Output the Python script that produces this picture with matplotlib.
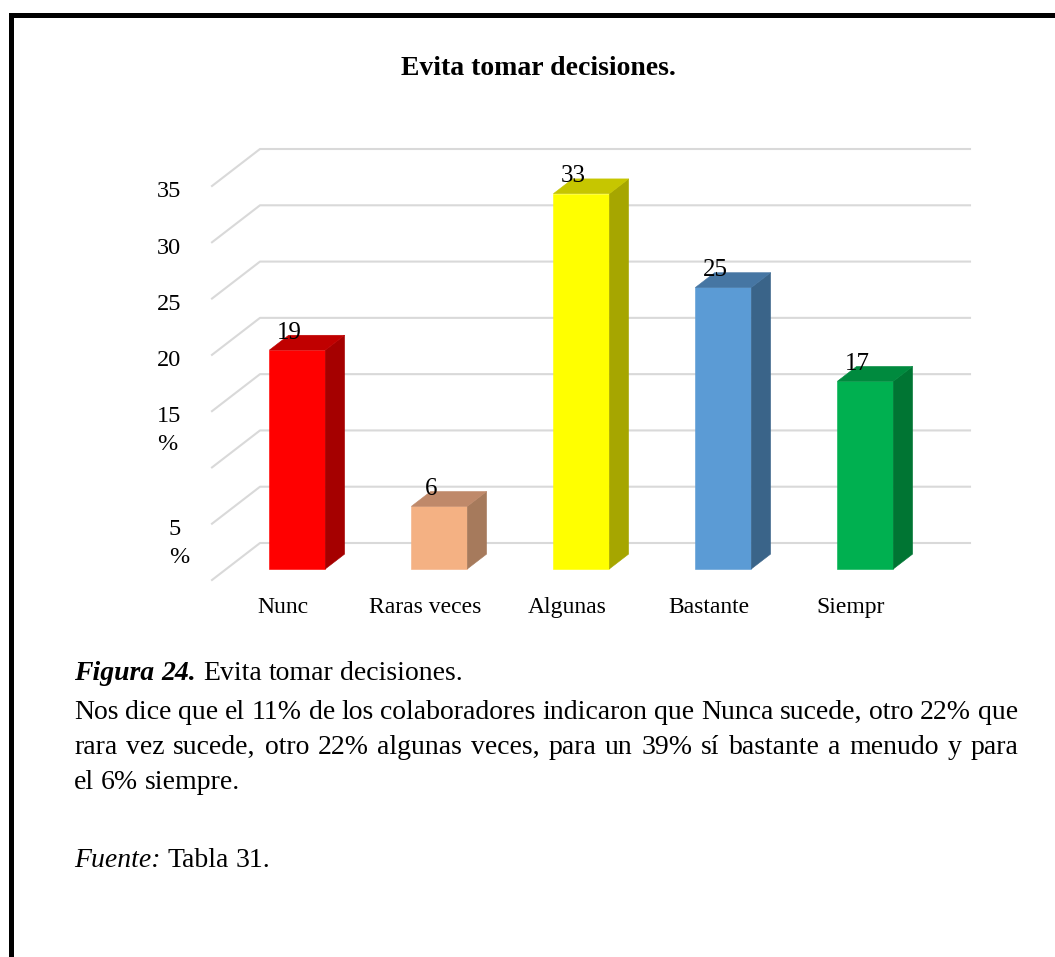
import matplotlib
matplotlib.use("Agg")
import matplotlib.pyplot as plt
from matplotlib.patches import Polygon
from matplotlib.lines import Line2D

# chart data
categories = ["Nunc", "Raras veces", "Algunas", "Bastante", "Siempr"]
values = [19.44, 5.56, 33.33, 25.0, 16.67]
front_colors = ["#ff0000", "#f4b183", "#ffff00", "#5b9bd5", "#00b050"]
side_colors = ["#a50000", "#a67a5c", "#a6a600", "#3a6489", "#007533"]
top_colors = ["#c00000", "#bf896a", "#c6c600", "#4676a3", "#008a3e"]
tick_values = [0, 5, 10, 15, 20, 25, 30, 35]
tick_labels = ["", "5", "", "15", "20", "25", "30", "35"]
tick_units = ["", "%", "", "%", "", "", "", ""]

title = "Evita tomar decisiones."
caption_head = "Figura 24."
caption_title = "Evita tomar decisiones."
body_lines = [
    "Nos dice que el 11% de los colaboradores indicaron que Nunca sucede, otro 22% que",
    "rara vez sucede, otro 22% algunas veces, para un 39% sí bastante a menudo y para",
    "el 6% siempre.",
]
source_head = "Fuente:"
source_text = "Tabla 31."

W, H = 1055, 957
serif = "Liberation Serif"
plt.rcParams["font.family"] = [serif, "DejaVu Serif"]

fig = plt.figure(figsize=(W / 100, H / 100), dpi=100)
fig.patch.set_facecolor("white")
renderer = fig.canvas.get_renderer()

# page frame (top and left rules)
fig.add_artist(Line2D([10.5 / W, 10.5 / W, 1.0], [0.0, 1 - 14.5 / H, 1 - 14.5 / H],
                      transform=fig.transFigure, color="black", lw=3.6,
                      solid_joinstyle="miter", solid_capstyle="projecting"))

# plot area in category / value units, with room for the depth offset
ax = fig.add_axes([212 / W, 1 - 580 / H, (970 - 212) / W, (580 - 149) / H])
ax.axis("off")
DX, DY = 48 / 142, 37 / 11.26      # wall depth in data units
BW = 0.394                          # bar width
ax.set_xlim(-0.5, 4.5 + DX)
ax.set_ylim(0, 35 + DY)

for v in tick_values:
    ax.plot([-0.5, -0.5 + DX, 4.5 + DX], [v, v + DY, v + DY], color="#d9d9d9",
            lw=1.5, zorder=1, clip_on=False)

for i, v in enumerate(values):
    x0 = i - BW / 2 + 0.3 * DX
    x1 = x0 + BW
    y0 = 0.3 * DY
    y1 = y0 + v
    ddx, ddy = 0.4 * DX, 0.4 * DY
    faces = [
        ([(x0, y0), (x1, y0), (x1, y1), (x0, y1)], front_colors[i]),
        ([(x1, y0), (x1 + ddx, y0 + ddy), (x1 + ddx, y1 + ddy), (x1, y1)], side_colors[i]),
        ([(x0, y1), (x1, y1), (x1 + ddx, y1 + ddy), (x0 + ddx, y1 + ddy)], top_colors[i]),
    ]
    for pts, c in faces:
        ax.add_patch(Polygon(pts, closed=True, facecolor=c, edgecolor=c, lw=0.4,
                             zorder=3, clip_on=False))
    ax.text(i + 0.045, y1 + 1.0, f"{v:.0f}", ha="center", va="baseline",
            fontsize=18, zorder=4, clip_on=False)

# value axis labels; the unit wraps onto a second line under some of them
for v, lbl, unit in zip(tick_values, tick_labels, tick_units):
    if not lbl:
        continue
    t = ax.text(-0.718, v - 1.0, lbl, ha="right", va="baseline", fontsize=17.5,
                clip_on=False)
    if unit:
        bb = t.get_window_extent(renderer)
        base = ax.transData.transform((0, v - 1.0))[1]
        fig.text(bb.x0 / W, (base - 28) / H, unit, ha="left", va="baseline",
                 fontsize=17.5)

for i, c in enumerate(categories):
    ax.text(i, -(613 - 580) / 11.26, c, ha="center", va="baseline", fontsize=17,
            clip_on=False)

fig.text(538.5 / W, 1 - 75 / H, title, ha="center", va="baseline",
         fontsize=20, fontweight="bold")

# caption block, set word by word so lines can be justified
body_size = 20
space = 0.25 * body_size * 100 / 72


def place_words(pieces, left, right, base_y, justify):
    items = []
    for word, style in pieces:
        t = fig.text(left / W, 1 - base_y / H, word, va="baseline",
                     fontsize=body_size, **style)
        items.append(t)
    widths = [t.get_window_extent(renderer).width for t in items]
    gap = (right - left - sum(widths)) / (len(items) - 1) if justify else space
    x = left
    for t, wd in zip(items, widths):
        t.set_x(x / W)
        x += wd + gap


regular = {}
bold_it = {"fontweight": "bold", "fontstyle": "italic"}
italic = {"fontstyle": "italic"}

head = [(w, bold_it) for w in caption_head.split()]
place_words(head + [(w, regular) for w in caption_title.split()], 74, 1018, 680, False)
for k, line in enumerate(body_lines):
    place_words([(w, regular) for w in line.split()], 74, 1018, 719 + 35 * k,
                k < len(body_lines) - 1)
place_words([(source_head, italic)] + [(w, regular) for w in source_text.split()],
            74, 1018, 867, False)

fig.savefig("out.png", dpi=100)
